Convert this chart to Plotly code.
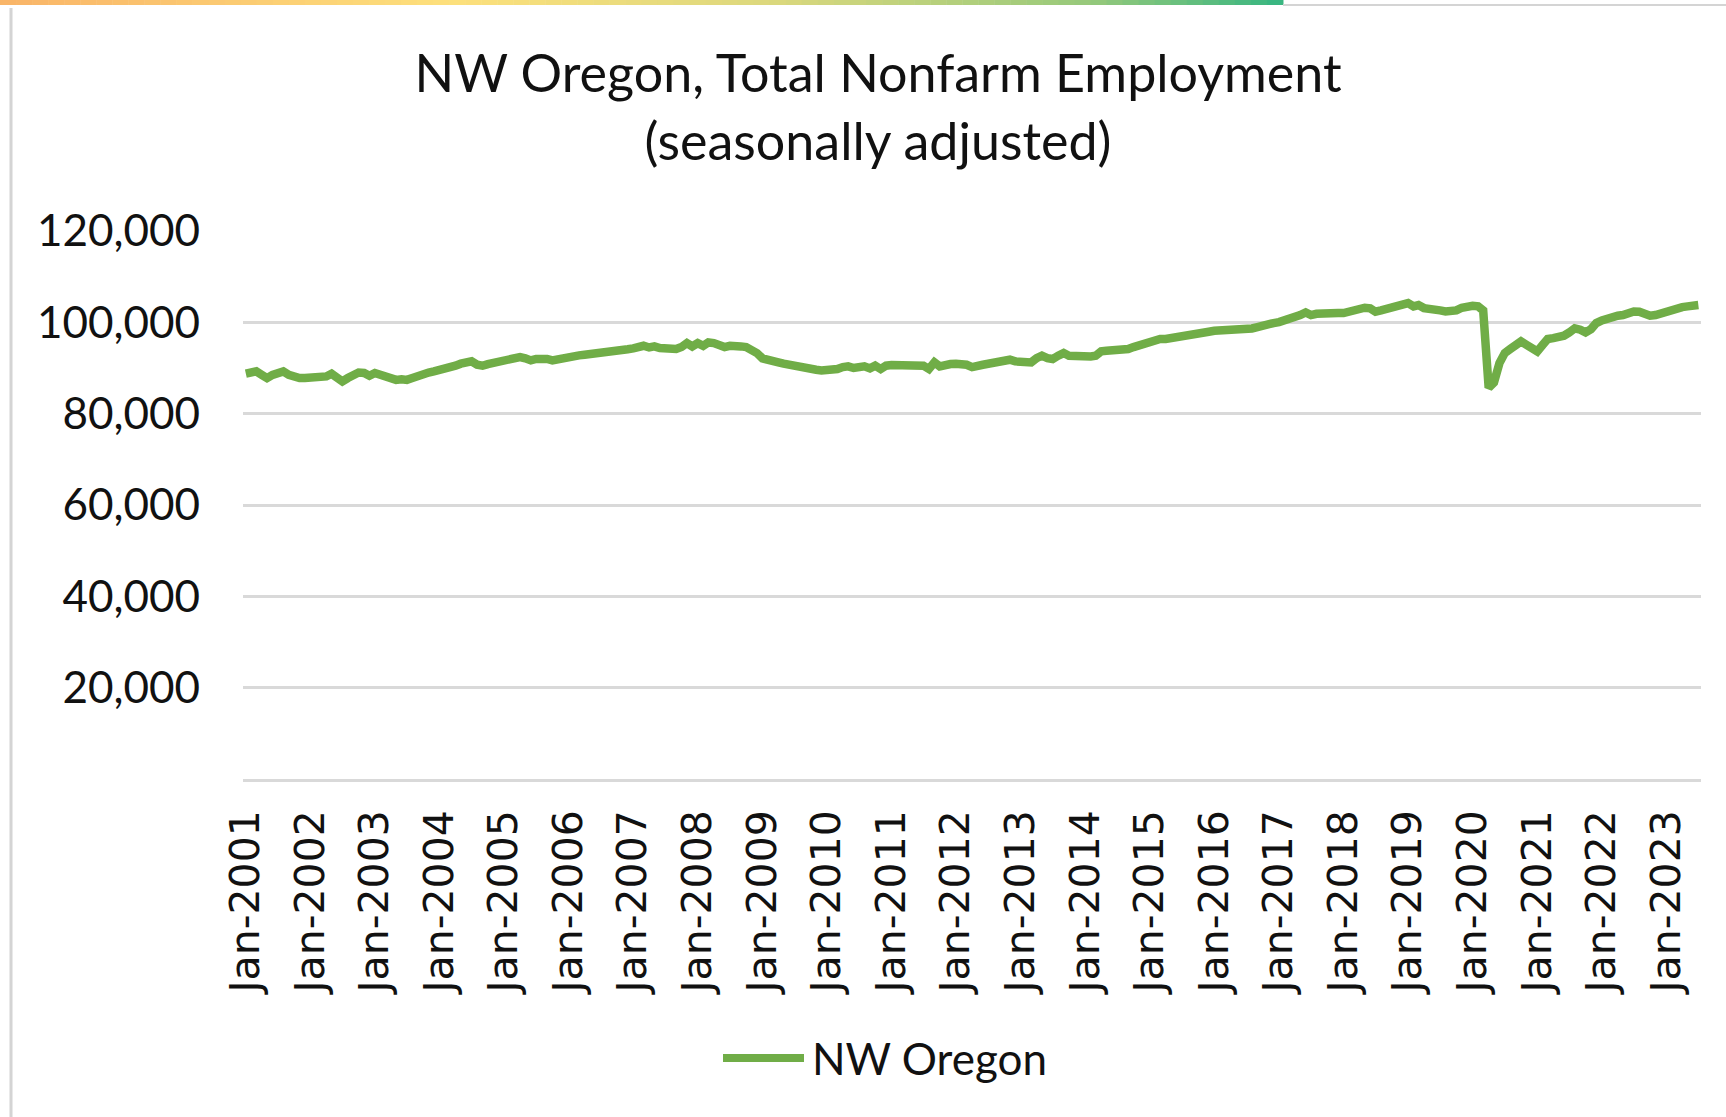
import pandas as pd
import plotly.graph_objects as go

# NW Oregon total nonfarm employment, seasonally adjusted, Jan-2001 .. Jul-2023
y2001 = [88750, 89030, 89260, 88500, 87800, 88500, 89000, 89260, 88500, 88000, 87800, 87800]
y2002 = [87800, 87800, 87800, 88150, 88750, 88000, 87050, 87800, 88500, 89000, 88900, 88300]
y2003 = [88900, 88500, 88000, 87700, 87400, 87550, 87400, 87800, 88300, 88750, 89000, 89250]
y2004 = [89480, 89770, 90130, 90500, 90940, 91230, 91450, 90720, 90500, 90860, 91080, 91450]
y2005 = [91670, 91820, 92040, 92400, 92110, 91670, 91970, 92180, 91970, 91670, 91970, 92180]
y2006 = [92400, 92600, 92770, 92900, 93000, 93100, 93120, 93250, 93420, 93700, 93850, 94100]
y2007 = [94300, 94730, 94870, 94500, 94730, 94360, 94150, 94000, 94150, 94580, 95460, 94730]
y2008 = [95460, 94870, 95600, 95460, 95090, 94580, 94870, 94580, 94730, 94580, 94000, 93270]
y2009 = [92100, 91670, 91450, 91230, 90940, 90640, 90360, 90130, 89910, 89770, 89620, 89480]
y2010 = [89480, 89480, 89770, 90200, 90360, 90000, 90360, 90360, 89910, 90500, 89770, 90500]
y2011 = [90640, 90640, 90640, 90640, 90640, 90640, 90500, 89770, 91230, 90360, 90790, 90860]
y2012 = [90930, 90930, 90710, 90200, 90640, 90710, 90930, 91080, 91450, 91660, 91810, 91450]
y2013 = [91230, 91230, 91230, 92170, 92690, 92170, 91960, 92690, 93270, 92690, 92540, 92540]
y2014 = [92540, 92540, 92690, 93640, 93780, 93860, 93780, 93780, 94150, 94580, 95020, 95460]
y2015 = [95900, 96190, 96340, 96340, 96480, 96770, 96920, 97070, 97210, 97280, 97650, 97940]
y2016 = [98160, 98230, 98230, 98230, 98230, 98230, 98380, 98670, 98960, 99400, 99690, 99840]
y2017 = [100060, 100350, 100720, 101010, 101590, 102170, 101590, 101880, 102030, 102030, 102030, 102030]
y2018 = [102030, 102320, 102760, 103050, 103200, 103050, 102320, 102610, 102900, 103200, 103490, 103780]
y2019 = [104220, 103490, 103780, 103120, 103050, 103050, 102610, 102390, 102390, 102610, 103200, 103490]
y2020 = [103640, 103490, 102600, 85700, 86850, 91080, 93270, 94150, 95090, 95820, 95090, 94360]
y2021 = [93640, 95090, 96340, 96550, 96770, 97070, 97800, 98670, 98380, 97800, 98520, 99840]
y2022 = [100420, 100930, 101300, 101450, 101590, 102030, 102390, 102320, 101880, 101450, 101590, 102030]
y2023 = [102470, 102900, 103120, 103340, 103490, 103850, 103780]

employment = (y2001 + y2002 + y2003 + y2004 + y2005 + y2006 + y2007 + y2008
              + y2009 + y2010 + y2011 + y2012 + y2013 + y2014 + y2015 + y2016
              + y2017 + y2018 + y2019 + y2020 + y2021 + y2022 + y2023)
months = pd.date_range("2001-01-01", periods=len(employment), freq="MS")

y_ticks = [20000, 40000, 60000, 80000, 100000, 120000]
series_name = "NW Oregon"

W, H = 1726, 1117
L, R, T, B = 243, 25, 231, 338
GREEN = "#70AD47"
GRID = "#D9D9D9"


def px_x(px):
    return (px - L) / (W - L - R)


def px_y(py):
    return 1 - (py - T) / (H - T - B)


def mix(c1, c2, t):
    a = [int(c1[i:i + 2], 16) for i in (1, 3, 5)]
    b = [int(c2[i:i + 2], 16) for i in (1, 3, 5)]
    return "#" + "".join("%02x" % round(a[k] + (b[k] - a[k]) * t) for k in range(3))


fig = go.Figure(
    go.Scatter(
        x=months,
        y=employment,
        mode="lines",
        name=series_name,
        line=dict(color=GREEN, width=8.5),
        showlegend=False,
    )
)

shapes = []
# gradient strip along the top edge of the screenshot
stops = [(0.0, "#f9b468"), (0.35, "#fde07c"), (0.6, "#dcd87d"), (0.85, "#96c97b"), (1.0, "#36b581")]
n_seg = 80
bar_end = 1283
for k in range(n_seg):
    t = (k + 0.5) / n_seg
    for j in range(len(stops) - 1):
        if stops[j][0] <= t <= stops[j + 1][0]:
            c = mix(stops[j][1], stops[j + 1][1], (t - stops[j][0]) / (stops[j + 1][0] - stops[j][0]))
            break
    shapes.append(dict(type="rect", xref="paper", yref="paper",
                       x0=px_x(bar_end * k / n_seg), x1=px_x(bar_end * (k + 1) / n_seg + 0.5),
                       y0=px_y(5), y1=px_y(0), line_width=0, fillcolor=c, layer="above"))
# thin grey frame lines
shapes.append(dict(type="line", xref="paper", yref="paper", x0=px_x(bar_end), x1=px_x(W),
                   y0=px_y(5), y1=px_y(5), line=dict(color="#d4d4d4", width=2)))
shapes.append(dict(type="line", xref="paper", yref="paper", x0=px_x(11), x1=px_x(11),
                   y0=px_y(8), y1=px_y(H), line=dict(color="#d4d4d4", width=3)))
# legend entry
shapes.append(dict(type="line", xref="paper", yref="paper", x0=px_x(723), x1=px_x(804),
                   y0=px_y(1058), y1=px_y(1058), line=dict(color=GREEN, width=8)))

fig.update_layout(
    width=W,
    height=H,
    margin=dict(l=L, r=R, t=T, b=B),
    paper_bgcolor="white",
    plot_bgcolor="white",
    showlegend=False,
    title=dict(
        text="NW Oregon, Total Nonfarm Employment<br>(seasonally adjusted)",
        x=878 / W,
        xanchor="center",
        xref="container",
        y=1 - 92 / H,
        yanchor="middle",
        yref="container",
        font=dict(family="Lato", size=52, color="#111111"),
    ),
    xaxis=dict(
        range=["2000-12-16", "2023-07-16"],
        tick0="2001-01-01",
        dtick="M12",
        tickformat="%b-%Y",
        tickangle=-90,
        ticklabelstandoff=12,
        tickfont=dict(family="DejaVu Sans", size=41, color="#111111"),
        showgrid=False,
        showline=True,
        linecolor=GRID,
        linewidth=2.5,
        ticks="",
        zeroline=False,
    ),
    yaxis=dict(
        range=[0, 120000],
        tickvals=y_ticks,
        tickformat=",d",
        ticklabelstandoff=42,
        tickfont=dict(family="Lato", size=44, color="#111111"),
        showgrid=True,
        gridcolor=GRID,
        gridwidth=2.5,
        zeroline=False,
        ticks="",
    ),
    shapes=shapes,
    annotations=[
        dict(text=series_name, xref="paper", yref="paper", x=px_x(810), y=px_y(1058),
             xanchor="left", yanchor="middle", showarrow=False,
             font=dict(family="Lato", size=44, color="#111111"))
    ],
)

fig.write_html(
    "out.html",
    config={"displayModeBar": False},
    post_script="document.body.style.margin = '0';",
)
